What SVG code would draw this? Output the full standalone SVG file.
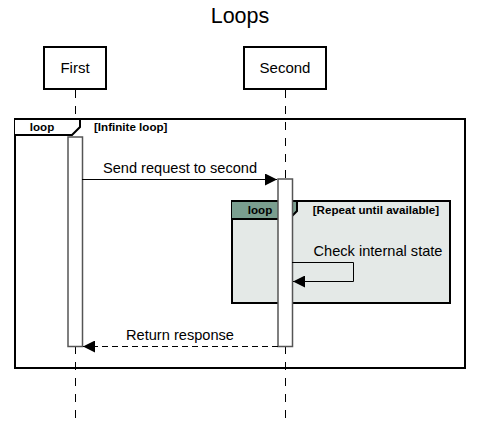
<svg xmlns="http://www.w3.org/2000/svg" width="480" height="421" viewBox="0 0 480 421">
<style>
text{font-family:"Liberation Sans",Arial,sans-serif;fill:#000}
.actor{fill:#fff;stroke:#000;stroke-width:2}
.life{stroke:#000;stroke-width:1;stroke-dasharray:8,8}
.act{fill:#fff;stroke:#555;stroke-width:1.5}
.msg{stroke:#000;stroke-width:1;fill:none}
.lbl{font-size:14.6px;text-anchor:middle}
.node{font-size:15px;text-anchor:middle}
.tab{font-size:11.6px;font-weight:bold}
</style>
<defs>
<marker id="ah" viewBox="0 0 12 12" refX="12" refY="6" markerWidth="12" markerHeight="12" markerUnits="userSpaceOnUse" orient="auto">
<path d="M0,0 L12,6 L0,12 z" fill="#000"/>
</marker>
</defs>
<rect width="480" height="421" fill="#fff"/>
<text x="240" y="23" font-size="21.5" text-anchor="middle">Loops</text>
<g id="lifelines">
<line class="life" x1="75.5" y1="90" x2="75.5" y2="421"/>
<line class="life" x1="285.5" y1="90" x2="285.5" y2="421"/>
</g>
<g id="first">
<rect class="actor" x="44" y="47" width="62" height="42"/>
<text class="node" x="75" y="73">First</text>
</g>
<g id="second">
<rect class="actor" x="244" y="47" width="82" height="42"/>
<text class="node" x="285" y="73">Second</text>
</g>
<g id="loop-outer">
<rect x="15" y="119" width="450" height="249" fill="none" stroke="#000" stroke-width="2"/>
<path d="M15,119 H80 V127 L72,135 H15" fill="#fff" stroke="#000" stroke-width="2"/>
<text class="tab" x="42" y="131" text-anchor="middle">loop</text>
<text class="tab" x="94" y="131">[Infinite loop]</text>
</g>
<g id="activation-first">
<rect class="act" x="68" y="137" width="14.5" height="209.5"/>
</g>
<g id="loop-inner">
<rect x="232" y="201" width="218" height="102" fill="#e4e9e7" stroke="#000" stroke-width="2"/>
<path d="M232,201 H297 V211 L289,219 H232" fill="#7a9e8f" stroke="#000" stroke-width="2"/>
<text class="tab" x="260" y="214" text-anchor="middle">loop</text>
<text class="tab" x="439" y="214" text-anchor="end">[Repeat until available]</text>
</g>
<g id="activation-second">
<rect class="act" x="278" y="179" width="14.5" height="167.5"/>
</g>
<g id="connectors">
<line class="msg" x1="82" y1="179.5" x2="277" y2="179.5" marker-end="url(#ah)"/>
<text class="lbl" x="180" y="173">Send request to second</text>
<polyline class="msg" points="292,262.5 353.5,262.5 353.5,281.5 293,281.5" marker-end="url(#ah)"/>
<text class="lbl" x="378" y="256">Check internal state</text>
<line class="msg" x1="278" y1="346.5" x2="83" y2="346.5" stroke-dasharray="6,4" marker-end="url(#ah)"/>
<text class="lbl" x="180" y="340">Return response</text>
</g>
</svg>
